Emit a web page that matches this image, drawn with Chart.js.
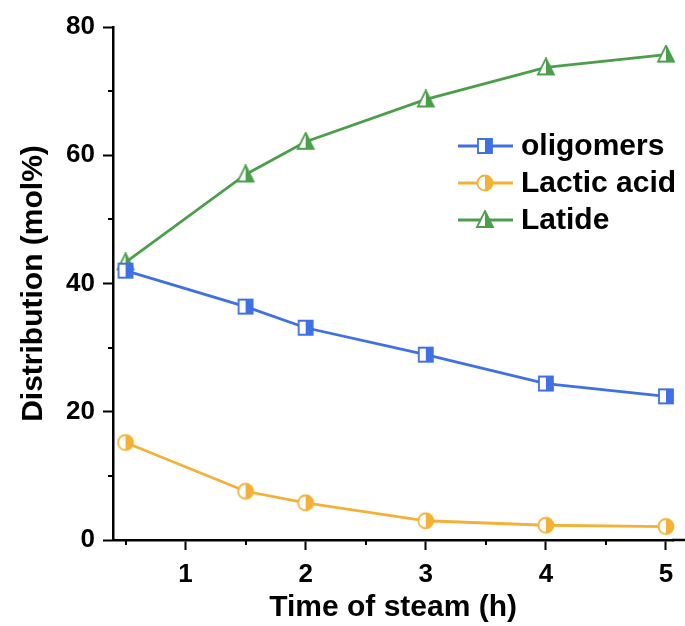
<!DOCTYPE html>
<html>
<head>
<meta charset="utf-8">
<script src="https://cdn.jsdelivr.net/npm/chart.js@4"></script>
<style>
  html, body { margin: 0; padding: 0; background: #fff; }
  #wrap { width: 685px; height: 626px; }
</style>
</head>
<body>
<div id="wrap"><canvas id="distChart" width="685" height="626"></canvas></div>
<script>
// data
const times = [0.5, 1.5, 2, 3, 4, 5];
const oligomers = [42.0, 36.4, 33.1, 28.9, 24.4, 22.4];
const lacticAcid = [15.2, 7.6, 5.8, 3.0, 2.3, 2.1];
const latide = [43.3, 57.0, 62.1, 68.7, 73.7, 75.7];
const seriesNames = ['oligomers', 'Lactic acid', 'Latide'];
const xTicks = [0.5, 1, 1.5, 2, 2.5, 3, 3.5, 4, 4.5, 5];
const yTicks = [0, 10, 20, 30, 40, 50, 60, 70, 80];

const BLUE = '#3f70e6';
const ORANGE = '#f4b137';
const GREEN = '#4b9f4b';
const FONT = "Arial, 'Liberation Sans', Helvetica, sans-serif";

// half-filled markers (left white, right coloured)
function makeMarker(shape, color) {
    const s = 20;
    const c = document.createElement('canvas');
    c.width = s; c.height = s;
    const g = c.getContext('2d');
    const m = s / 2;
    g.lineWidth = 1.8;
    g.strokeStyle = color;
    g.beginPath();
    if (shape === 'square') {
        g.rect(m - 7, m - 7, 14, 14);
    } else if (shape === 'circle') {
        g.arc(m, m, 7.5, 0, Math.PI * 2);
    } else {
        g.moveTo(m, m - 9);
        g.lineTo(m + 8, m + 7);
        g.lineTo(m - 8, m + 7);
        g.closePath();
    }
    g.fillStyle = '#fff';
    g.fill();
    g.save();
    g.clip();
    g.fillStyle = color;
    g.fillRect(m, 0, s, s);
    g.restore();
    g.stroke();
    return c;
}

const markers = [makeMarker('square', BLUE), makeMarker('circle', ORANGE), makeMarker('triangle', GREEN)];
const colors = [BLUE, ORANGE, GREEN];
const values = [oligomers, lacticAcid, latide];

function pts(arr) {
    return times.map((t, i) => ({ x: t, y: arr[i] }));
}

// legend drawn inside the plot area
const insideLegend = {
    id: 'insideLegend',
    afterDraw(chart) {
        const g = chart.ctx;
        g.save();
        seriesNames.forEach((name, i) => {
            const cy = 146 + i * 37;
            g.strokeStyle = colors[i];
            g.lineWidth = 2.8;
            g.beginPath();
            g.moveTo(458, cy);
            g.lineTo(513, cy);
            g.stroke();
            g.drawImage(markers[i], 485 - 10, cy - 10);
            g.fillStyle = '#000';
            g.font = 'bold 30px ' + FONT;
            g.textBaseline = 'middle';
            g.fillText(name, 521, cy + 1);
        });
        g.restore();
    }
};

// short minor ticks, and the x axis line running on to the edge
const minorTicks = {
    id: 'minorTicks',
    afterDraw(chart) {
        const g = chart.ctx;
        const xs = chart.scales.x, ys = chart.scales.y;
        const a = chart.chartArea;
        g.save();
        g.strokeStyle = '#000';
        g.lineWidth = 2;
        g.beginPath();
        xTicks.filter(v => !Number.isInteger(v)).forEach(v => {
            const px = Math.round(xs.getPixelForValue(v));
            g.moveTo(px, a.bottom);
            g.lineTo(px, a.bottom + 5);
        });
        yTicks.filter(v => v % 20 !== 0).forEach(v => {
            const py = Math.round(ys.getPixelForValue(v));
            g.moveTo(a.left, py);
            g.lineTo(a.left - 5, py);
        });
        g.stroke();
        g.lineWidth = 2.5;
        g.beginPath();
        g.moveTo(a.right - 1, a.bottom);
        g.lineTo(chart.width, a.bottom);
        g.stroke();
        g.restore();
    }
};

const ctx = document.getElementById('distChart').getContext('2d');

const datasets = seriesNames.map((name, i) => ({
    label: name,
    data: pts(values[i]),
    borderColor: colors[i],
    backgroundColor: colors[i],
    borderWidth: 2.8,
    pointStyle: markers[i],
    pointRadius: 9,
    tension: 0,
    clip: false
}));

const chart = new Chart(ctx, {
    type: 'line',
    data: { datasets: datasets },
    options: {
        responsive: false,
        animation: false,
        layout: { padding: { top: 27, right: 0, left: 0, bottom: 0 } },
        plugins: {
            legend: { display: false },
            tooltip: { enabled: false }
        },
        scales: {
            x: {
                type: 'linear',
                min: 0.4,
                max: 5.16,
                afterBuildTicks: s => { s.ticks = xTicks.map(v => ({ value: v })); },
                afterFit: s => {
                    s.height = 86;
                    s.paddingRight = 0;
                    s.paddingLeft = 0;
                },
                border: { display: true, color: '#000', width: 2.5 },
                grid: {
                    drawOnChartArea: false,
                    tickLength: 10,
                    tickWidth: 2,
                    tickColor: c => (c.tick && Number.isInteger(c.tick.value)) ? '#000' : 'rgba(0,0,0,0)'
                },
                ticks: {
                    color: '#000',
                    padding: 9,
                    maxRotation: 0,
                    autoSkip: false,
                    font: { family: FONT, size: 26, weight: 'bold' },
                    callback: v => Number.isInteger(v) ? String(v) : ''
                },
                title: {
                    display: true,
                    text: 'Time of steam (h)',
                    color: '#000',
                    font: { family: FONT, size: 30, weight: 'bold' },
                    padding: { top: 0, bottom: 0 }
                }
            },
            y: {
                min: 0,
                max: 80,
                afterBuildTicks: s => { s.ticks = yTicks.map(v => ({ value: v })); },
                afterFit: s => { s.width = 113; },
                border: { display: true, color: '#000', width: 2.5 },
                grid: {
                    drawOnChartArea: false,
                    tickLength: 10,
                    tickWidth: 2,
                    tickColor: c => (c.tick && c.tick.value % 20 === 0) ? '#000' : 'rgba(0,0,0,0)'
                },
                ticks: {
                    color: '#000',
                    padding: 8,
                    autoSkip: false,
                    font: { family: FONT, size: 26, weight: 'bold' },
                    callback: v => v % 20 === 0 ? String(v) : ''
                },
                title: {
                    display: true,
                    text: 'Distribution (mol%)',
                    color: '#000',
                    font: { family: FONT, size: 30, weight: 'bold' },
                    padding: { top: 16, bottom: 0 }
                }
            }
        }
    },
    plugins: [insideLegend, minorTicks]
});

// keep the 0.5 and 5 h ticks where the original figure has them
const area = chart.chartArea;
const pxPerHour = 120.1;
chart.options.scales.x.min = 0.5 - (125.5 - area.left) / pxPerHour;
chart.options.scales.x.max = 5 + (area.right - 666) / pxPerHour;
chart.update();
</script>
</body>
</html>
